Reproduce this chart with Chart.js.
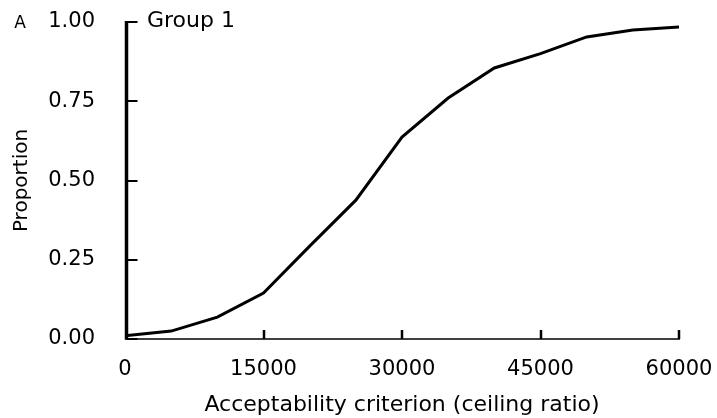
<!DOCTYPE html>
<html>
<head>
<meta charset="utf-8">
<script src="https://cdn.jsdelivr.net/npm/chart.js@4.4.0/dist/chart.umd.min.js"></script>
<style>
  html, body { margin: 0; padding: 0; background: #fff; }
  #wrap { width: 717px; height: 418px; position: relative; }
</style>
</head>
<body>
<div id="wrap"><canvas id="ceacChart"></canvas></div>
<script>
// ceiling ratio (x) and proportion acceptable (y)
const ceilingRatios = [0, 5000, 10000, 15000, 20000, 25000, 30000, 35000, 40000, 45000, 50000, 55000, 60000];
const proportions = [0.01, 0.025, 0.069, 0.145, 0.293, 0.438, 0.637, 0.76, 0.855, 0.90, 0.953, 0.975, 0.984];
const xTicks = [0, 15000, 30000, 45000, 60000];
const yTicks = [0, 0.25, 0.5, 0.75, 1];

const FONT = "'DejaVu Sans', sans-serif";

// === AXIS LINES, INWARD TICKS, PANEL LABELS ===
const panelDecor = {
  id: 'panelDecor',
  afterDatasetsDraw(chart) {
    const ctx = chart.ctx;
    const area = chart.chartArea;
    const xs = chart.scales.x;
    const ys = chart.scales.y;
    const axisX = area.left + 1.5;
    ctx.save();
    ctx.strokeStyle = '#000';
    ctx.lineCap = 'butt';

    // x axis
    ctx.lineWidth = 1.5;
    ctx.beginPath();
    ctx.moveTo(axisX, area.bottom);
    ctx.lineTo(xs.getPixelForValue(60000) + 1, area.bottom);
    ctx.stroke();

    // x ticks (pointing up)
    ctx.lineWidth = 2.5;
    ctx.beginPath();
    xTicks.forEach(v => {
      if (v === 0) return;
      const px = Math.round(xs.getPixelForValue(v));
      ctx.moveTo(px, area.bottom);
      ctx.lineTo(px, area.bottom - 9);
    });
    ctx.stroke();

    // y ticks (pointing right)
    ctx.lineWidth = 2;
    ctx.beginPath();
    yTicks.forEach(v => {
      const py = Math.round(ys.getPixelForValue(v));
      ctx.moveTo(axisX, py);
      ctx.lineTo(axisX + 11, py);
    });
    ctx.stroke();

    // y axis
    ctx.lineWidth = 3.5;
    ctx.beginPath();
    ctx.moveTo(axisX, area.top - 1);
    ctx.lineTo(axisX, area.bottom + 0.75);
    ctx.stroke();

    ctx.fillStyle = '#000';
    ctx.textBaseline = 'middle';
    ctx.font = '17px ' + FONT;
    ctx.textAlign = 'center';
    ctx.fillText('A', 20, 24);
    ctx.font = '22px ' + FONT;
    ctx.textAlign = 'left';
    ctx.fillText('Group 1', area.left + 22, 21);
    ctx.restore();
  }
};

const ctx = document.getElementById('ceacChart').getContext('2d');
new Chart(ctx, {
  type: 'line',
  data: {
    datasets: [{
      data: ceilingRatios.map((x, i) => ({ x: x, y: proportions[i] })),
      borderColor: '#000',
      borderWidth: 3,
      pointRadius: 0,
      tension: 0,
      fill: false
    }]
  },
  options: {
    responsive: true,
    maintainAspectRatio: false,
    animation: false,
    layout: { padding: { top: 22, right: 38, bottom: 0, left: 0 } },
    plugins: {
      legend: { display: false },
      tooltip: { enabled: false }
    },
    scales: {
      x: {
        type: 'linear',
        min: 0,
        max: 60000,
        afterBuildTicks: scale => { scale.ticks = xTicks.map(v => ({ value: v })); },
        afterFit: scale => { scale.height = 79; },
        ticks: {
          color: '#000',
          font: { family: FONT, size: 21 },
          padding: 0,
          maxRotation: 0,
          callback: v => String(v)
        },
        grid: { drawOnChartArea: false, tickLength: 18, color: 'rgba(0,0,0,0)', tickColor: 'rgba(0,0,0,0)' },
        border: { display: false },
        title: {
          display: true,
          text: 'Acceptability criterion (ceiling ratio)',
          color: '#000',
          font: { family: FONT, size: 22 },
          padding: { top: 0, bottom: 0 }
        }
      },
      y: {
        min: 0,
        max: 1,
        afterBuildTicks: scale => { scale.ticks = yTicks.map(v => ({ value: v })); },
        afterFit: scale => { scale.width = 125; },
        ticks: {
          color: '#000',
          font: { family: FONT, size: 21 },
          padding: 0,
          callback: v => Number(v).toFixed(2)
        },
        grid: { drawOnChartArea: false, tickLength: 30, color: 'rgba(0,0,0,0)', tickColor: 'rgba(0,0,0,0)' },
        border: { display: false },
        title: {
          display: true,
          text: 'Proportion',
          color: '#000',
          font: { family: FONT, size: 20 },
          padding: { top: 10, bottom: 0 }
        }
      }
    }
  },
  plugins: [panelDecor]
});
</script>
</body>
</html>
